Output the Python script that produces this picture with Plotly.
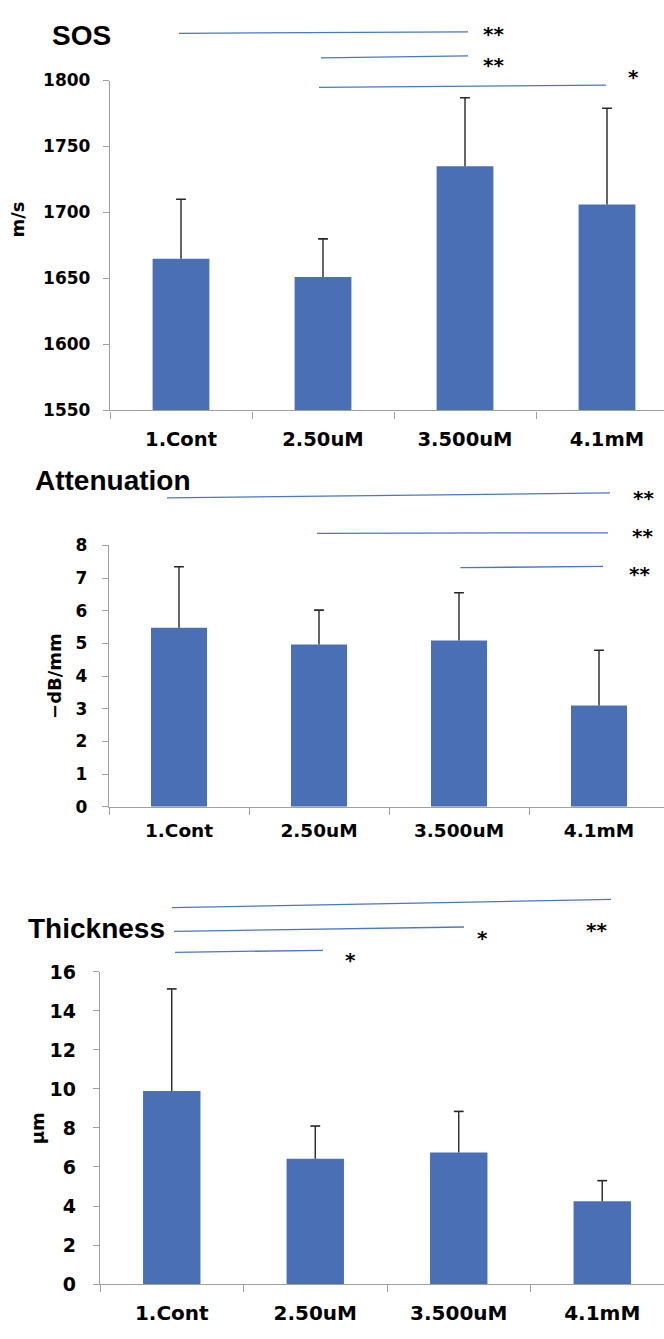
import plotly.graph_objects as go

W, H = 664, 1339

categories = ["1.Cont", "2.50uM", "3.500uM", "4.1mM"]

sos_mean = [1665, 1651, 1735, 1706]
sos_sd = [45, 29, 52, 73]
sos_ticks = [1550, 1600, 1650, 1700, 1750, 1800]

att_mean = [5.48, 4.97, 5.09, 3.10]
att_sd = [1.87, 1.05, 1.46, 1.69]
att_ticks = [0, 1, 2, 3, 4, 5, 6, 7, 8]

thk_mean = [9.90, 6.42, 6.75, 4.25]
thk_sd = [5.23, 1.68, 2.10, 1.05]
thk_ticks = [0, 2, 4, 6, 8, 10, 12, 14, 16]

BAR = "#4a6fb5"
SIG = "#4a76c6"
AXC = "#a0a0a0"
ERR = "#262626"


def px(x):
    return x / W


def py(y):
    return 1 - y / H


# panel geometry (pixels): left edge of plot, category width, top, bottom
panels = [
    dict(name="SOS", mean=sos_mean, sd=sos_sd, ticks=sos_ticks, ymin=1550, ymax=1800,
         left=110, cw=142, top=70.7, bottom=406, ytf=17, xtf=19.5, xso=11, yso=9),
    dict(name="Attenuation", mean=att_mean, sd=att_sd, ticks=att_ticks, ymin=0, ymax=8,
         left=109, cw=140, top=543.4, bottom=809, ytf=17, xtf=18.5, xso=7, yso=11),
    dict(name="Thickness", mean=thk_mean, sd=thk_sd, ticks=thk_ticks, ymin=0, ymax=16,
         left=100, cw=143.5, top=977, bottom=1294.3, ytf=19, xtf=20, xso=11, yso=13),
]

fig = go.Figure()

for i, p in enumerate(panels):
    n = "" if i == 0 else str(i + 1)
    xa, ya = "x" + n, "y" + n
    fig.add_trace(go.Bar(x=categories, y=p["mean"], xaxis=xa, yaxis=ya, width=0.4,
                         marker=dict(color=BAR, line=dict(width=0)), showlegend=False))
    ex, ey = [], []
    for c, m, s in zip(categories, p["mean"], p["sd"]):
        ex += [c, c, None]
        ey += [m, m + s, None]
    fig.add_trace(go.Scatter(x=ex, y=ey, xaxis=xa, yaxis=ya, mode="lines",
                             line=dict(color=ERR, width=1.4), showlegend=False,
                             hoverinfo="skip"))
    fig.add_trace(go.Scatter(x=categories, y=[m + s for m, s in zip(p["mean"], p["sd"])],
                             xaxis=xa, yaxis=ya, mode="markers",
                             marker=dict(symbol="line-ew", size=7, color=ERR,
                                         line=dict(color=ERR, width=1.6)),
                             showlegend=False, hoverinfo="skip"))
    xend = -0.5 + (W - p["left"]) / p["cw"]
    fig.layout["xaxis" + n] = dict(
        domain=[px(p["left"]), 1.0], range=[-0.5, xend], anchor=ya,
        type="category", showline=True, linecolor=AXC, linewidth=1.4,
        ticks="outside", tickson="boundaries", ticklen=7, tickcolor=AXC, tickwidth=1.4,
        showgrid=False, zeroline=False, ticklabelstandoff=p["xso"],
        tickfont=dict(family="DejaVu Sans", size=p["xtf"], color="black", weight="bold"),
        fixedrange=True)
    fig.layout["yaxis" + n] = dict(
        domain=[py(p["bottom"]), py(p["top"])], range=[p["ymin"], p["ymax"]], anchor=xa,
        tickvals=p["ticks"], showline=True, linecolor=AXC, linewidth=1.4,
        ticks="outside", ticklen=6, tickcolor=AXC, tickwidth=1.4,
        showgrid=False, zeroline=False, ticklabelstandoff=p["yso"],
        tickfont=dict(family="DejaVu Sans", size=p["ytf"], color="black", weight="bold"),
        fixedrange=True)

annotations = []
# Panel titles (left x, cap-centre y)
for text, x, y in [("SOS", 50, 24.5), ("Attenuation", 33, 477.5), ("Thickness", 26, 933)]:
    annotations.append(dict(text=text, x=px(x), y=py(y), xref="paper", yref="paper",
                            xanchor="left", yanchor="middle", showarrow=False,
                            font=dict(family="Liberation Sans", size=28, color="black",
                                      weight="bold")))
# Axis titles (rotated)
for text, x, y in [("m/s", 18, 212), ("\u2212dB/mm", 55, 676), ("\u03bcm", 37, 1136)]:
    annotations.append(dict(text=text, x=px(x), y=py(y), xref="paper", yref="paper",
                            xanchor="center", yanchor="middle", textangle=-90,
                            showarrow=False,
                            font=dict(family="DejaVu Sans", size=18, color="black",
                                      weight="bold")))

# significance lines (x0, y0, x1, y1) in pixels
sig_lines = [
    (179, 22.7, 468, 21.3), (321, 47.7, 468, 45.7), (319, 77.7, 606, 75.3),
    (167, 495, 610, 490), (317, 531, 608, 530.5), (460.5, 566, 603, 564.7),
    (172, 911.7, 611, 903.3), (174, 935.7, 464, 931.3), (175, 957, 323, 955),
]
shapes = []
for x0, y0, x1, y1 in sig_lines:
    shapes.append(dict(type="line", xref="paper", yref="paper",
                       x0=px(x0), y0=py(y0), x1=px(x1), y1=py(y1),
                       line=dict(color=SIG, width=1.3)))

# significance markers: text, centre x, glyph centre y (pixels)
sig_marks = [
    ("**", 493, 19.5), ("**", 493, 50.5), ("*", 633, 63),
    ("**", 643, 491), ("**", 642, 529.5), ("**", 639, 568),
    ("**", 596.5, 930), ("*", 482, 938.5), ("*", 350, 960.5),
]
for text, x, y in sig_marks:
    annotations.append(dict(text=text, x=px(x), y=py(y + 4), xref="paper", yref="paper",
                            xanchor="center", yanchor="middle", showarrow=False,
                            font=dict(family="DejaVu Sans", size=20, color="black",
                                      weight="bold")))

fig.update_layout(
    width=W, height=H, margin=dict(l=0, r=0, t=0, b=0),
    paper_bgcolor="white", plot_bgcolor="white", showlegend=False,
    annotations=annotations, shapes=shapes, bargap=0.6,
)

fig.write_html("out.html")
